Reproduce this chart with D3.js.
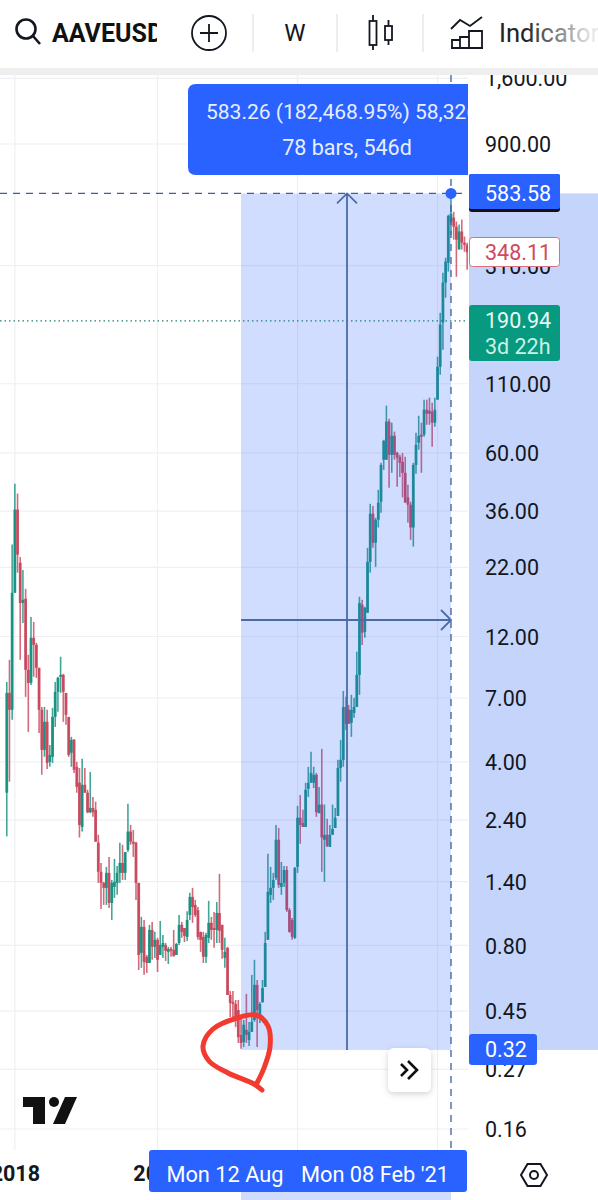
<!DOCTYPE html>
<html><head><meta charset="utf-8">
<script src="https://cdn.jsdelivr.net/npm/d3@7"></script>
<style>html,body{margin:0;padding:0;background:#fff}svg{display:block}text{font-family:Roboto,sans-serif}</style>
</head><body><div id="c"></div>
<script>
const opens=[3.05,7.32,6.31,17.6,36.5,22.9,16.1,16.7,8.96,7.99,11.86,11.15,9.12,6.31,4.44,5.68,4.0,4.18,5.93,7.39,8.43,8.57,7.32,5.93,4.33,4.85,3.83,3.33,2.26,3.27,3.05,2.57,2.67,2.625,1.97,1.525,1.384,1.325,1.511,1.161,1.336,1.384,1.511,1.648,1.511,1.848,2.17,1.985,1.967,1.384,.75,.941,.724,.686,.916,.79,.84,.736,.79,.803,.756,.776,.769,.736,.817,.958,.932,.862,1.045,1.224,1.141,1.09,.901,.862,.724,.855,.975,.932,.916,1.063,.958,.717,.783,.518,.487,.479,.454,.365,.343,.382,.349,.375,.416,.566,.427,.487,.556,.84,1.246,1.325,1.446,2.02,1.336,1.384,1.55,1.09,1.0,.855,1.592,2.45,2.34,2.26,3.155,3.33,3.33,3.57,2.55,2.75,2.02,2.11,1.897,2.11,2.24,2.49,3.79,4.07,6.47,6.31,5.63,6.14,6.47,8.57,15.86,12.5,14.77,23.1,35.2,27.3,33.4,39.1,56.5,56.5,79,59,69.7,60,58,55.5,50.4,40.6,38.1,31.2,54,65.6,70.4,70.4,87.6,86.9,86.1,78.2,95.7,127.7,188,267,318,456,472,436,357,418,379,372];
const highs=[8.06,9.78,26.9,45.8,42,24.1,21.5,18.23,10.22,14.25,13.64,11.35,9.12,6.47,6.47,6.31,4.64,6.42,8.06,8.43,10.05,8.65,7.32,5.93,4.98,4.89,4.0,3.79,4.11,3.79,3.13,3.66,2.94,2.82,2.11,1.648,1.396,1.592,1.738,1.42,1.708,1.605,1.967,1.933,1.8,2.77,2.3,2.2,1.985,1.384,1.027,1.0,.736,.958,.983,.901,.855,.992,.877,.817,.79,.79,.916,.817,1.045,.983,.932,1.08,1.268,1.325,1.192,1.12,.901,.901,.893,1.182,1.027,1.073,1.171,1.498,.958,.855,.79,.537,.537,.496,.496,.435,.416,.523,.409,.618,.705,.591,.487,.591,.901,1.785,1.592,1.511,2.3,2.24,1.663,1.605,1.605,1.11,1.018,1.592,2.72,2.99,2.625,3.33,3.83,4.37,3.83,3.63,3.21,4.48,2.75,2.43,2.3,2.75,2.67,4.07,4.85,7.45,7.07,6.59,7.2,7.01,10.5,17,16.55,15.57,26.1,38.4,37.7,34,43.4,55,67.3,90.8,81,78.2,72.3,60.6,59,60,58,45.4,39.1,55,71.6,83.1,78.2,95.7,95.7,97.4,93.2,97.4,139.4,205,291,332,484,583.58,497,456,444,464,400,379];
const lows=[2.08,3.36,5.78,17.6,21,9.78,13.5,7.07,5.2,7.85,8.43,8.35,5.15,3.57,4.18,3.76,3.83,3.96,5.43,6.2,7.32,5.68,5.53,4.18,3.83,3.63,3.05,2.06,2.17,3.05,2.55,2.55,2.47,1.985,1.384,1.1,1.141,1.141,1.11,1.0,1.214,1.246,1.384,1.42,1.42,1.815,1.933,1.738,1.192,.645,.657,.618,.628,.686,.705,.717,.634,.736,.717,.698,.68,.724,.724,.736,.803,.855,.824,.832,1.0,.975,1.027,.84,.756,.686,.686,.817,.84,.783,.817,.817,.711,.657,.518,.427,.427,.391,.34,.323,.328,.34,.331,.375,.409,.328,.405,.483,.556,.84,1.161,1.192,1.42,1.325,1.246,1.336,1.073,.893,.84,.847,1.511,1.95,2.26,2.26,2.94,3.33,3.18,2.47,2.55,1.525,1.396,1.897,1.897,2.11,2.24,2.49,3.36,3.83,5.29,5.58,4.98,5.88,6.47,7.2,11.15,11.86,14.77,21,26.1,22.1,31.2,35.5,51.7,56.5,44.2,50.4,56.5,44.6,48.6,40.6,38.8,32.6,28,26.4,50,61.7,50.4,69.1,76.8,76.8,63.3,75.5,95.7,119,148.3,234,294,406,389,281,357,357,350,299];
const closes=[7.32,6.31,17.6,36.5,24.6,16.1,16.55,8.96,7.99,11.86,11.15,9.12,6.31,4.44,5.68,3.96,4.25,5.93,7.39,8.35,8.57,7.39,6.04,4.25,4.85,3.73,3.21,2.3,3.27,3.05,2.57,2.67,2.57,1.985,1.525,1.384,1.325,1.511,1.161,1.384,1.396,1.511,1.648,1.511,1.815,2.17,1.985,1.95,1.384,.736,.941,.692,.686,.916,.79,.84,.705,.803,.817,.763,.776,.763,.73,.81,.958,.901,.87,1.0,1.224,1.12,1.045,.862,.84,.724,.877,.975,.916,.916,1.063,.909,.769,.756,.518,.483,.479,.416,.358,.34,.399,.365,.375,.409,.566,.454,.479,.551,.817,1.28,1.325,1.42,2.02,1.36,1.384,1.55,1.09,.901,.862,1.578,2.45,2.3,2.26,3.13,3.33,3.63,3.57,2.57,2.75,2.06,2.11,1.915,2.11,2.22,2.45,3.79,4.07,6.47,5.58,5.58,6.31,6.47,8.57,16.1,12.4,15.43,23.1,35.2,27.3,33.4,38.8,54,66.7,79,59,69.7,59,57.5,55,50.4,38.8,38.1,31.2,54,64.4,69.7,69.1,87.6,84.6,84.6,78.2,87.6,127.7,185,267,321,479,488,436,389,418,379,372,348.11];
const priceTicks=[1600,900,310,110,60,36,22,12,7,4,2.4,1.4,.8,.45,.27,.16];
const yearTicks=[new Date(Date.UTC(2018,0,1)),new Date(Date.UTC(2019,0,7)),new Date(Date.UTC(2020,0,6)),new Date(Date.UTC(2021,0,4))];
const firstBar=new Date(Date.UTC(2017,11,11));
const measureStart=new Date(Date.UTC(2019,7,12)), measureEnd=new Date(Date.UTC(2021,1,8));
const measureLow=.32, measureHigh=583.58, lastClose=348.11, prevLevel=190.94;

const W=598,H=1200,chartR=468,chartTop=75,chartB=1150;
const dates=d3.utcMonday.range(firstBar,d3.utcMonday.offset(firstBar,opens.length));
const x=d3.scaleUtc().domain([measureStart,measureEnd]).range([241,451]);
const y=d3.scaleLog().domain([.16,900]).range([1129,144]);
const svg=d3.select("#c").append("svg").attr("width",W).attr("height",H);
const defs=svg.append("defs");
defs.append("clipPath").attr("id","chartClip").append("rect").attr("x",0).attr("y",chartTop).attr("width",chartR).attr("height",chartB-chartTop);
defs.append("clipPath").attr("id","tipClip").append("rect").attr("x",188).attr("y",84).attr("width",280).attr("height",91);
defs.append("clipPath").attr("id","symClip").append("rect").attr("x",0).attr("y",0).attr("width",157).attr("height",67);
const fade=defs.append("linearGradient").attr("id","fade").attr("gradientUnits","userSpaceOnUse").attr("x1",525).attr("x2",592).attr("y1",0).attr("y2",0);
fade.append("stop").attr("offset",0).attr("stop-color","#222");fade.append("stop").attr("offset",1).attr("stop-color","#e8e8e8");
const f=defs.append("filter").attr("id","sh").attr("x","-30%").attr("y","-30%").attr("width","160%").attr("height","160%");
f.append("feDropShadow").attr("dx",0).attr("dy",2).attr("stdDeviation",3).attr("flood-color","#000").attr("flood-opacity",.18);

const chart=svg.append("g").attr("clip-path","url(#chartClip)");
// grid
chart.selectAll("line.h").data(priceTicks).join("line").attr("x1",0).attr("x2",chartR).attr("y1",d=>y(d)).attr("y2",d=>y(d)).attr("stroke","#eef0f5").attr("stroke-width",1.2);
chart.selectAll("line.v").data(yearTicks).join("line").attr("x1",d=>x(d)).attr("x2",d=>x(d)).attr("y1",chartTop).attr("y2",chartB).attr("stroke","#eef0f5").attr("stroke-width",1.2);
// candles
const TEAL="#14907e",RED="#c8455a";
const bars=d3.range(opens.length);
const col=i=>closes[i]>=opens[i]?TEAL:RED;
chart.selectAll("line.w").data(bars).join("line").attr("x1",i=>x(dates[i])).attr("x2",i=>x(dates[i])).attr("y1",i=>y(highs[i])).attr("y2",i=>y(lows[i])).attr("stroke",col).attr("stroke-width",1.6).attr("opacity",.8);
chart.selectAll("rect.b").data(bars).join("rect").attr("x",i=>x(dates[i])-1.4).attr("width",2.8).attr("y",i=>Math.min(y(opens[i]),y(closes[i]))).attr("height",i=>Math.max(1.5,Math.abs(y(opens[i])-y(closes[i])))).attr("fill",col).attr("opacity",.92);
// measure overlay
chart.append("rect").attr("x",x(measureStart)).attr("width",x(measureEnd)-x(measureStart)).attr("y",y(measureHigh)).attr("height",y(measureLow)-y(measureHigh)).attr("fill","#2962ff").attr("opacity",.215);
// level lines
const LN="#4a6ba6";
chart.append("line").attr("x1",0).attr("x2",chartR).attr("y1",y(prevLevel)).attr("y2",y(prevLevel)).attr("stroke","#1f7f78").attr("stroke-width",1.2).attr("stroke-dasharray","1.5 3");
chart.append("line").attr("x1",0).attr("x2",chartR).attr("y1",y(measureHigh)).attr("y2",y(measureHigh)).attr("stroke","#3d5f9c").attr("stroke-width",1.3).attr("stroke-dasharray","7 6");
chart.append("line").attr("x1",x(measureEnd)).attr("x2",x(measureEnd)).attr("y1",chartTop).attr("y2",chartB).attr("stroke","#3d5f9c").attr("stroke-width",1.3).attr("stroke-dasharray","7 6");
// arrows
const midX=(x(measureStart)+x(measureEnd))/2+1, midY=620, topY=y(measureHigh), botY=y(measureLow), xs=x(measureStart), xe=x(measureEnd);
chart.append("path").attr("fill","none").attr("stroke",LN).attr("stroke-width",1.8).attr("d",`M${midX} ${botY}V${topY}M${midX-10} ${topY+10}L${midX} ${topY}L${midX+10} ${topY+10}`);
chart.append("path").attr("fill","none").attr("stroke",LN).attr("stroke-width",1.8).attr("d",`M${xs} ${midY}H${xe}M${xe-10} ${midY-10}L${xe} ${midY}L${xe-10} ${midY+10}`);
chart.append("circle").attr("cx",xe).attr("cy",topY).attr("r",5.5).attr("fill","#2962ff");
// hand drawn circle
svg.append("path").attr("fill","none").attr("stroke","#f23a2f").attr("stroke-width",5).attr("stroke-linecap","round").attr("stroke-linejoin","round")
 .attr("d",d3.line().curve(d3.curveCatmullRom)([[262,1090],[254,1084],[228,1073],[209,1061],[203,1046],[213,1029],[237,1018],[256,1015],[268,1026],[270,1047],[264,1068],[257,1083]]));
// logo
const logo=svg.append("g").attr("fill","#111");
logo.append("path").attr("d","M23 1097H45V1124H33V1107H23Z");
logo.append("path").attr("d","M65 1097H77L65 1124H53Z");
logo.append("circle").attr("cx",54).attr("cy",1102).attr("r",5);
// jump button
svg.append("rect").attr("x",388).attr("y",1048).attr("width",43).attr("height",44).attr("rx",6).attr("fill","#fff").attr("filter","url(#sh)");
svg.append("path").attr("fill","none").attr("stroke","#111").attr("stroke-width",2.6).attr("d","M401 1064L407 1070L401 1076M408 1061L417 1070L408 1079");
// price axis
svg.append("rect").attr("x",chartR).attr("y",chartTop).attr("width",W-chartR).attr("height",H-chartTop).attr("fill","#fff");
svg.append("rect").attr("x",chartR+1).attr("y",y(measureHigh)).attr("width",W-chartR-1).attr("height",y(measureLow)-y(measureHigh)).attr("fill","#c5d4fb");
const yAxis=d3.axisRight(y).tickValues(priceTicks).tickSize(0).tickPadding(0).tickFormat(d3.format(",.2f"));
const ag=svg.append("g").attr("transform","translate(485,0.7)").call(yAxis);
ag.select(".domain").remove();
ag.selectAll("text").attr("font-size",21.5).attr("fill","#131722").attr("font-family","Roboto,sans-serif");
// price badges
const badge=(x0,y0,w,h,fill,stroke)=>svg.append("rect").attr("x",x0).attr("y",y0).attr("width",w).attr("height",h).attr("rx",3).attr("fill",fill).attr("stroke",stroke||"none");
const label=(t,cx,cy,fill,size,anchor)=>svg.append("text").attr("x",cx).attr("y",cy).attr("dy",".35em").attr("fill",fill).attr("font-size",size).attr("text-anchor",anchor||"start").text(t);
badge(469,174,91,38,"#111");
svg.append("rect").attr("x",469).attr("y",174).attr("width",91).attr("height",35).attr("rx",2).attr("fill","#2962ff");
label(d3.format(".2f")(measureHigh),485,y(measureHigh),"#fff",21.5);
badge(469.5,237.5,90,29,"#fff","#d9707e");
label(d3.format(".2f")(lastClose),485,y(lastClose),"#cf4a5c",21.5);
badge(469,305,91,56,"#089981");
label(d3.format(".2f")(prevLevel),485,y(prevLevel),"#e9fbf5",21.5);
label("3d 22h",485,346,"#c9f2e4",21.5);
badge(469,1034,68,31,"#2962ff");
label(d3.format(".2f")(measureLow),485,y(measureLow),"#fff",21.5);
// time axis
svg.append("rect").attr("x",0).attr("y",chartB).attr("width",chartR).attr("height",H-chartB).attr("fill","#fff");
const xAxis=d3.axisBottom(x).tickValues(yearTicks).tickSize(0).tickPadding(0).tickFormat(d3.utcFormat("%Y"));
const xg=svg.append("g").attr("transform","translate(0,1166)").call(xAxis);
xg.select(".domain").remove();
xg.selectAll("text").attr("font-size",21.5).attr("font-weight",700).attr("fill","#131722").attr("font-family","Roboto,sans-serif");
svg.append("rect").attr("x",xs).attr("y",1190).attr("width",xe-xs).attr("height",10).attr("fill","#cfdcfd");
badge(149,1150,318,42,"#2962ff");
const fd=d3.utcFormat("%a %d %b"), fd2=d3.utcFormat("%a %d %b '%y");
label(fd(measureStart),225,1174,"#fff",21.8,"middle");
label(fd2(measureEnd),375,1174,"#fff",21.8,"middle");
// settings hexagon
svg.append("path").attr("fill","none").attr("stroke","#131722").attr("stroke-width",2).attr("d","M521 1175L527.5 1164H540.5L547 1175L540.5 1186H527.5Z");
svg.append("circle").attr("cx",534).attr("cy",1175).attr("r",4).attr("fill","none").attr("stroke","#131722").attr("stroke-width",2);
// tooltip
svg.append("path").attr("fill","#2962ff").attr("d","M196 84H468V175H196Q188 175 188 167V92Q188 84 196 84Z");
const tip=svg.append("g").attr("clip-path","url(#tipClip)");
tip.append("text").attr("x",206).attr("y",112).attr("dy",".35em").attr("fill","#e8eeff").attr("font-size",21).text("583.26 (182,468.95%) 58,326");
tip.append("text").attr("x",347).attr("y",147).attr("dy",".35em").attr("fill","#e8eeff").attr("font-size",21.5).attr("text-anchor","middle").text("78 bars, 546d");
// toolbar
svg.append("rect").attr("x",0).attr("y",0).attr("width",W).attr("height",68).attr("fill","#fff");
svg.append("rect").attr("x",0).attr("y",68).attr("width",W).attr("height",7).attr("fill","#eeeeee");
const tb=svg.append("g").attr("fill","none").attr("stroke","#131722");
tb.append("circle").attr("cx",26).attr("cy",29).attr("r",9.5).attr("stroke-width",2.6);
tb.append("path").attr("stroke-width",2.6).attr("d","M33 36L40 44");
tb.append("circle").attr("cx",209).attr("cy",33).attr("r",17).attr("stroke-width",1.8);
tb.append("path").attr("stroke-width",1.8).attr("d","M200 33H218M209 24V42");
tb.selectAll("line").data([253,337,423]).join("line").attr("x1",d=>d).attr("x2",d=>d).attr("y1",14).attr("y2",52).attr("stroke","#e6e6e6").attr("stroke-width",1.4);
tb.append("path").attr("stroke-width",1.8).attr("d","M373 15V50M388.5 20V45");
tb.append("rect").attr("x",369.5).attr("y",21).attr("width",7).attr("height",24).attr("fill","#fff").attr("stroke-width",1.8);
tb.append("rect").attr("x",385).attr("y",26).attr("width",7).attr("height",14).attr("fill","#fff").attr("stroke-width",1.8);
tb.append("path").attr("stroke-width",1.8).attr("d","M451 29L460 20L470 26L482 17M452 48V40H460V48M460 48V37H469V48M469 48V31H482V48M451 48H483");
svg.append("g").attr("clip-path","url(#symClip)").append("text").attr("x",52).attr("y",33).attr("dy",".35em").attr("font-size",25).attr("font-weight",700).attr("fill","#111").text("AAVEUSD");
svg.append("text").attr("x",295).attr("y",33).attr("dy",".35em").attr("font-size",24).attr("text-anchor","middle").attr("fill","#131722").text("W");
svg.append("text").attr("x",499).attr("y",33).attr("dy",".35em").attr("font-size",25.5).attr("fill","url(#fade)").text("Indicators");
</script></body></html>
